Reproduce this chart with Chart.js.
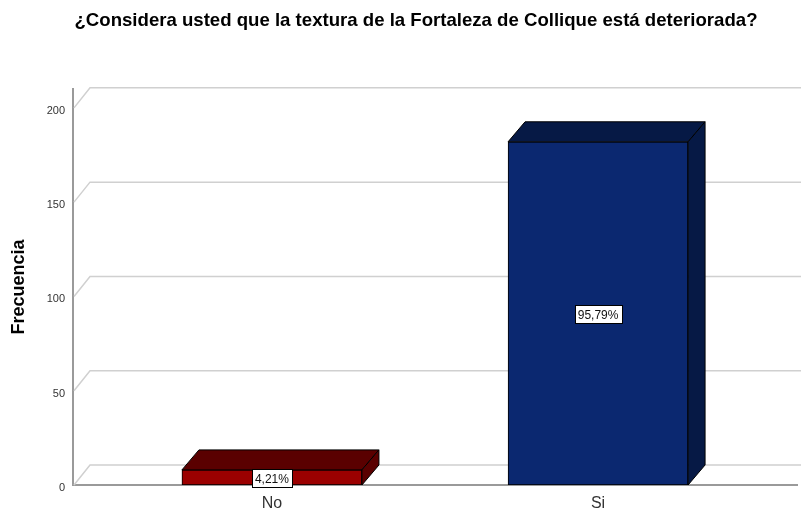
<!DOCTYPE html>
<html>
<head>
<meta charset="utf-8">
<script src="https://cdn.jsdelivr.net/npm/chart.js@4.4.1/dist/chart.umd.min.js"></script>
<style>
html,body{margin:0;padding:0;background:#fff;}
#wrap{width:801px;height:510px;position:relative;}
</style>
</head>
<body>
<div id="wrap"><canvas id="c" width="801" height="510"></canvas></div>
<script>
const titleText = '¿Considera usted que la textura de la Fortaleza de Collique está deteriorada?';
const categories = ['No', 'Si'];
const frequencies = [8, 182];
const percents = ['4,21%', '95,79%'];
const yTicks = [0, 50, 100, 150, 200];
const frontColors = ['#9b0000', '#0b2870'];
const topColors = ['#5a0000', '#061945'];
const sideColors = ['#5a0000', '#061945'];

const DX = 17, DY = 20;
const FONT = '"Liberation Sans", Arial, sans-serif';

const depthPlugin = {
  id: 'depth',
  beforeDatasetsDraw(chart) {
    const ctx = chart.ctx, y = chart.scales.y, area = chart.chartArea;
    ctx.save();
    ctx.strokeStyle = '#d0d0d0';
    ctx.lineWidth = 1.5;
    yTicks.forEach(v => {
      const py = y.getPixelForValue(v);
      ctx.beginPath();
      ctx.moveTo(area.left + 1, py);
      ctx.lineTo(area.left + DX, py - DY);
      ctx.lineTo(801, py - DY);
      ctx.stroke();
    });
    ctx.restore();
  },
  afterDatasetsDraw(chart) {
    const ctx = chart.ctx;
    const meta = chart.getDatasetMeta(0);
    ctx.save();
    ctx.lineWidth = 1;
    ctx.strokeStyle = '#000';
    ctx.lineJoin = 'miter';
    meta.data.forEach((bar, i) => {
      const p = bar.getProps(['x', 'y', 'base', 'width'], true);
      const l = p.x - p.width / 2, r = p.x + p.width / 2, t = p.y, b = p.base;
      // top face
      ctx.fillStyle = topColors[i];
      ctx.beginPath();
      ctx.moveTo(l, t); ctx.lineTo(l + DX, t - DY); ctx.lineTo(r + DX, t - DY); ctx.lineTo(r, t); ctx.closePath();
      ctx.fill(); ctx.stroke();
      // side face
      ctx.fillStyle = sideColors[i];
      ctx.beginPath();
      ctx.moveTo(r, t); ctx.lineTo(r + DX, t - DY); ctx.lineTo(r + DX, b - DY); ctx.lineTo(r, b); ctx.closePath();
      ctx.fill(); ctx.stroke();
      // label box
      ctx.font = '12px ' + FONT;
      const txt = percents[i];
      const w = Math.round(ctx.measureText(txt).width + 6), h = 18;
      const cx = p.x, cy = (t + b) / 2 + 1;
      const bx = Math.round(cx - w / 2) + 0.5, by = Math.round(cy - h / 2) + 0.5;
      ctx.fillStyle = '#fff';
      ctx.fillRect(bx, by, w, h);
      ctx.strokeStyle = '#000';
      ctx.strokeRect(bx, by, w, h);
      ctx.fillStyle = '#111';
      ctx.textAlign = 'center';
      ctx.textBaseline = 'middle';
      ctx.fillText(txt, cx, cy + 1);
    });
    ctx.restore();
  },
  afterDraw(chart) {
    const ctx = chart.ctx;
    ctx.save();
    ctx.font = 'bold 18.6px ' + FONT;
    ctx.fillStyle = '#000';
    ctx.textAlign = 'center';
    ctx.textBaseline = 'middle';
    ctx.fillText(titleText, 416, 21);
    ctx.restore();
  }
};

new Chart(document.getElementById('c'), {
  type: 'bar',
  data: {
    datasets: [{
      data: categories.map((c, i) => ({ x: i, y: frequencies[i] })),
      backgroundColor: frontColors,
      borderColor: '#000',
      borderWidth: 1,
      borderSkipped: false,
      barThickness: 180
    }]
  },
  options: {
    responsive: false,
    animation: false,
    events: [],
    layout: { padding: { top: 89, left: 0, right: 4, bottom: 0 } },
    plugins: { legend: { display: false }, tooltip: { enabled: false }, title: { display: false } },
    scales: {
      x: {
        type: 'linear',
        offset: false,
        min: -0.61,
        max: 1.61,
        grid: { display: false, drawTicks: false, offset: false },
        border: { display: true, color: '#9a9a9a', width: 2 },
        afterBuildTicks(scale) { scale.ticks = categories.map((c, i) => ({ value: i })); },
        afterFit(scale) { scale.height = 25; },
        ticks: {
          autoSkip: false,
          maxRotation: 0,
          padding: 9,
          color: '#333',
          font: { family: FONT, size: 16 },
          callback: (v) => categories[v] ?? ''
        }
      },
      y: {
        min: 0,
        max: 210,
        grid: { display: false, drawTicks: false },
        border: { display: true, color: '#9a9a9a', width: 2 },
        afterBuildTicks(scale) { scale.ticks = yTicks.map(v => ({ value: v })); },
        afterFit(scale) { scale.width = 73; },
        ticks: { padding: 8, labelOffset: 3, color: '#333', font: { family: FONT, size: 11 } },
        title: {
          display: true,
          text: 'Frecuencia',
          color: '#000',
          font: { family: FONT, size: 18, weight: 'bold' },
          padding: { top: 8, bottom: 0 }
        }
      }
    }
  },
  plugins: [depthPlugin]
});
</script>
</body>
</html>
